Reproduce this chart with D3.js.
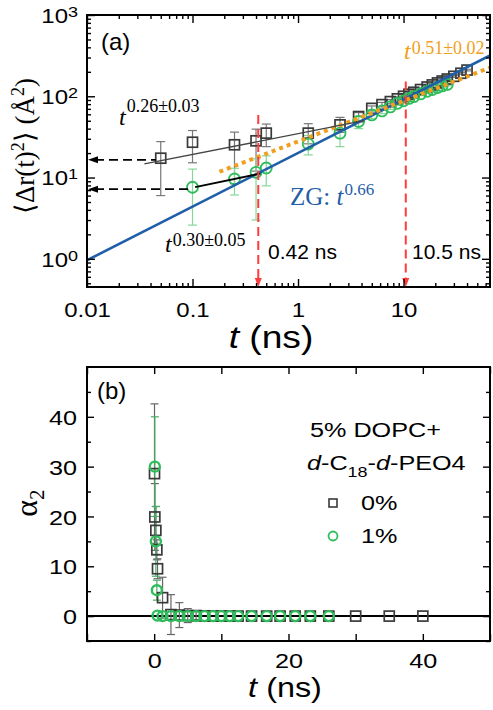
<!DOCTYPE html>
<html><head><meta charset="utf-8">
<script src="https://cdn.jsdelivr.net/npm/d3@7"></script>
<style>body{margin:0;background:#fff}svg{display:block}</style>
</head><body>
<svg id="c" width="493" height="710"></svg>
<script>
// ---------------- data ----------------
// panel (a): MSD, 0% (squares) and 1% (circles)
const tSq   = [0.05,0.1,0.25,0.4,0.5,1.25,2.5,3.75,5,6.25,7.5,8.75,10,11.25,12.5,14.5,16.75,18.75,21,23.25,26,30,35,40];
const msdSq = [17.3,27.2,25.3,28.3,35.2,35.2,44.5,56.3,71,79,86,93,100,106,112,121,130,138,146,154,163,176,192,210];
const msdSqLo = [6.0,15.2,8.4,12,24,26,36,49,66,74,81,88,95,101,107,116,125,133,141,149,158,171,187,205];
const msdSqHi = [27.7,37.9,36.2,39.4,45.5,46,55,63,76,84,91,98,105,111,117,126,135,143,151,159,168,181,197,215];

const tCi   = [0.1,0.25,0.4,0.5,1.25,2.5,3.75,5,6.25,7.5,8.75,10,11.25,12.5,14.5,16.75,18.75,21,23.25,26];
const msdCi = [7.6,9.6,11.6,13.1,25.8,35.2,48.9,59,66,74,82,88,94,99,107,115,121,128,134,140];
const msdCiLo = [2.6,6.1,3.0,7.9,19,24,40,53,61,69,77,83,89,94,102,110,116,123,129,135];
const msdCiHi = [12.7,13,17,18.5,32.9,44,57,65,71,79,87,93,99,104,112,120,126,133,139,145];

// fit lines (end points)
const fitSqT = [0.035, 4.2],  fitSqV = [14.7, 50];
const fitCiT = [0.106, 0.44], fitCiV = [7.6, 11.2];
const fitOrT = [0.18, 66],    fitOrV = [11.8, 225];
const fitZgT = [0.01, 66],    fitZgV = [0.96, 318];
// marked times (red dashed) and plateau arrows
const markT = [0.42, 10.5], markTop = [59, 152], markLbl = ["0.42 ns", "10.5 ns"];
const arrowV = [16.5, 7.2], arrowEndT = [0.045, 0.095];

// panel (b): alpha2
const a2Sq    = [28.6,19.9,17.2,13.3,9.5,3.7,0.3,0.2,0.1,0.1,0.05,0,0,0,0,0,0,0,0,0,0,0,0,0];
const a2SqErr = [14,6.7,4.8,2,2,4.1,4,2.5,1.4,0.8,0.5,0.4,0.3,0.3,0.3,0.3,0.3,0.3,0.3,0.3,0.3,0.3,0.3,0.3];
const a2Ci    = [30,15,5.2,0.1,0,0,0,0,0,0,0,0,0,0,0,0,0,0,0,0];
const a2CiErr = [10,7,2,0.5,0.3,0.3,0.3,0.2,0.2,0.2,0.2,0.2,0.2,0.2,0.2,0.2,0.2,0.2,0.2,0.2];

// ticks
const xaTicks = [0.01,0.1,1,10], xaLabels = ["0.01","0.1","1","10"];
const yaTicks = [1,10,100,1000];
const xbTicks = [0,20,40], xbMinor = [-10,10,30,50];
const ybTicks = [0,10,20,30,40], ybMinor = [-5,5,15,25,35,45];

// ---------------- drawing ----------------
const svg = d3.select("#c");
const SANS = "'Liberation Sans', Arial, sans-serif";
const SERIF = "'Liberation Serif', 'Times New Roman', serif";
const GREEN = "#2dbd5a", GREEN_E = "#86d79a", DARK = "#3a3a3a", BLUE = "#1f5ea8", ORANGE = "#f0a020", RED = "#ff3c3c";
const SX = 1.2;

const A = {l:87, r:490, t:15, b:287};
const B = {l:87, r:490, t:367, b:641};

const xa = d3.scaleLog().domain([0.01, 66]).range([A.l, A.r]);
const ya = d3.scaleLog().domain([0.45, 1000]).range([A.b, A.t]);
const xb = d3.scaleLinear().domain([-10, 50]).range([B.l, B.r]);
const yb = d3.scaleLinear().domain([-5, 50]).range([B.b, B.t]);

function logMinor(lo, hi){ const r=[]; for(let e=-3;e<=3;e++) for(let m=2;m<=9;m++){const v=m*Math.pow(10,e); if(v>=lo*0.999&&v<=hi*1.001) r.push(v);} return r; }

function ticks(axisFn, scale, vals, size, tr){
  const g = svg.append("g").attr("transform", tr)
    .call(axisFn(scale).tickValues(vals).tickSize(-size).tickSizeOuter(0).tickFormat(""));
  g.select(".domain").remove();
  g.selectAll("line").attr("stroke","#000").attr("stroke-width",1.4);
  return g;
}

// ---- defs
const defs = svg.append("defs");
defs.append("clipPath").attr("id","clipA").append("rect").attr("x",A.l).attr("y",A.t).attr("width",A.r-A.l).attr("height",A.b-A.t);
defs.append("clipPath").attr("id","clipB").append("rect").attr("x",B.l).attr("y",B.t).attr("width",B.r-B.l).attr("height",B.b-B.t);

// ================= PANEL A =================
const pa = svg.append("g").attr("clip-path","url(#clipA)");

function errBars(g, xs, ys, lo, hi, x, y, color, cap){
  const gg = g.append("g").attr("stroke",color).attr("stroke-width",1.2).attr("fill","none");
  xs.forEach((t,i)=>{
    const X=x(t), y1=y(lo[i]), y2=y(hi[i]);
    gg.append("line").attr("x1",X).attr("x2",X).attr("y1",y1).attr("y2",y2);
    gg.append("line").attr("x1",X-cap).attr("x2",X+cap).attr("y1",y1).attr("y2",y1);
    gg.append("line").attr("x1",X-cap).attr("x2",X+cap).attr("y1",y2).attr("y2",y2);
  });
}
errBars(pa, tSq, msdSq, msdSqLo, msdSqHi, xa, ya, "#777", 4.5);
errBars(pa, tCi, msdCi, msdCiLo, msdCiHi, xa, ya, GREEN_E, 4.5);

pa.append("g").selectAll("rect").data(tSq).join("rect")
  .attr("x",(d)=>xa(d)-5).attr("y",(d,i)=>ya(msdSq[i])-5).attr("width",10).attr("height",10)
  .attr("fill","none").attr("stroke",DARK).attr("stroke-width",1.7);
pa.append("g").selectAll("circle").data(tCi).join("circle")
  .attr("cx",(d)=>xa(d)).attr("cy",(d,i)=>ya(msdCi[i])).attr("r",5.5)
  .attr("fill","none").attr("stroke",GREEN).attr("stroke-width",1.8);

const lineA = d3.line().x(d=>xa(d[0])).y(d=>ya(d[1]));
function fit(T,V,color,w,dash){
  const p = pa.append("path").attr("d", lineA(T.map((t,i)=>[t,V[i]]))).attr("stroke",color).attr("stroke-width",w).attr("fill","none");
  if(dash) p.attr("stroke-dasharray",dash);
}
fit(fitZgT, fitZgV, BLUE, 2.6);
fit(fitOrT, fitOrV, ORANGE, 4, "4 4");
fit(fitSqT, fitSqV, "#444", 1.3);
fit(fitCiT, fitCiV, "#000", 1.8);

markT.forEach((t,i)=>{
  const X = xa(t);
  pa.append("line").attr("x1",X).attr("x2",X).attr("y1",ya(markTop[i])).attr("y2",A.b-6)
    .attr("stroke",RED).attr("stroke-width",2).attr("stroke-dasharray","9 5");
  pa.append("path").attr("d",`M${X-3.5},${A.b-9}L${X+3.5},${A.b-9}L${X},${A.b}Z`).attr("fill",RED);
});
arrowV.forEach((v,i)=>{
  const Y = ya(v);
  pa.append("line").attr("x1",A.l+8).attr("x2",xa(arrowEndT[i])).attr("y1",Y).attr("y2",Y)
    .attr("stroke","#000").attr("stroke-width",1.6).attr("stroke-dasharray","9 5");
  pa.append("path").attr("d",`M${A.l+1},${Y}L${A.l+11},${Y-3.5}L${A.l+11},${Y+3.5}Z`).attr("fill","#000");
});

ticks(d3.axisBottom, xa, xaTicks, 8, `translate(0,${A.b})`);
ticks(d3.axisBottom, xa, logMinor(0.01,66), 4, `translate(0,${A.b})`);
ticks(d3.axisTop, xa, xaTicks, 8, `translate(0,${A.t})`);
ticks(d3.axisTop, xa, logMinor(0.01,66), 4, `translate(0,${A.t})`);
ticks(d3.axisLeft, ya, yaTicks, 8, `translate(${A.l},0)`);
ticks(d3.axisLeft, ya, logMinor(0.45,1000), 4, `translate(${A.l},0)`);
ticks(d3.axisRight, ya, yaTicks, 8, `translate(${A.r},0)`);
ticks(d3.axisRight, ya, logMinor(0.45,1000), 4, `translate(${A.r},0)`);

const gxl = svg.append("g").attr("transform",`translate(0,${A.b})`)
  .call(d3.axisBottom(xa).tickValues(xaTicks).tickSize(0).tickFormat((d,i)=>xaLabels[i]));
gxl.select(".domain").remove();
gxl.selectAll("text").attr("y",0).attr("dy","0.71em").attr("transform",`translate(0,16) scale(${SX},1)`)
  .attr("font-size",20).attr("font-family",SANS).attr("fill","#000");

const gyl = svg.append("g").attr("transform",`translate(${A.l},0)`)
  .call(d3.axisLeft(ya).tickValues(yaTicks).tickSize(0).tickFormat(""));
gyl.select(".domain").remove();
gyl.selectAll("text").each(function(d){
  const t = d3.select(this);
  t.attr("x",0).attr("dy","0.36em").attr("transform",`translate(-9,0) scale(${SX},1)`)
   .attr("font-size",20).attr("font-family",SANS).attr("fill","#000").attr("text-anchor","end");
  t.text("10");
  t.append("tspan").attr("dy",-6).attr("font-size",15).text(Math.round(Math.log10(d)));
});

svg.append("rect").attr("x",A.l).attr("y",A.t).attr("width",A.r-A.l).attr("height",A.b-A.t)
  .attr("fill","none").attr("stroke","#000").attr("stroke-width",2);

svg.append("text").attr("x",101).attr("y",50).attr("font-family",SANS).attr("font-size",24).text("(a)");

function powLabel(x, y, fs, sup, sfs, dy, color, prefix){
  const t = svg.append("text").attr("x",x).attr("y",y).attr("font-family",SERIF).attr("font-size",fs).attr("fill",color);
  if(prefix) t.append("tspan").text(prefix);
  t.append("tspan").attr("font-style","italic").text("t");
  t.append("tspan").attr("dy",dy).attr("font-size",sfs).attr("dx",1).text(sup);
  return t;
}
powLabel(119, 125, 24, "0.26±0.03", 18, -13, "#000");
powLabel(165, 252, 24, "0.30±0.05", 18, -6, "#000");
powLabel(290, 205, 25, "0.66", 17, -10, BLUE, "ZG: ");
powLabel(404, 59, 24, "0.51±0.02", 18, -5, ORANGE);
markT.forEach((t,i)=>{
  svg.append("text").attr("x", i===0?268:412).attr("y",259).attr("font-family",SANS).attr("font-size",21).text(markLbl[i]);
});

const xtA = svg.append("text").attr("transform",`translate(271,348) scale(${SX},1)`).attr("text-anchor","middle")
  .attr("font-family",SANS).attr("font-size",31);
xtA.append("tspan").attr("font-style","italic").text("t");
xtA.append("tspan").text(" (ns)");

const ytA = svg.append("text").attr("transform","translate(34,146) rotate(-90)").attr("text-anchor","middle")
  .attr("font-family",SERIF).attr("font-size",27);
ytA.append("tspan").text("\u27E8\u0394r(t)");
ytA.append("tspan").attr("dy",-10).attr("font-size",18).text("2");
ytA.append("tspan").attr("dy",10).text("\u27E9 (Å");
ytA.append("tspan").attr("dy",-10).attr("font-size",18).text("2");
ytA.append("tspan").attr("dy",10).text(")");

// ================= PANEL B =================
const pb = svg.append("g").attr("clip-path","url(#clipB)");
pb.append("line").attr("x1",B.l).attr("x2",B.r).attr("y1",yb(0)).attr("y2",yb(0)).attr("stroke","#000").attr("stroke-width",2);

function errBarsLin(g, xs, ys, err, color, cap){
  const gg = g.append("g").attr("stroke",color).attr("stroke-width",1.2);
  xs.forEach((t,i)=>{
    if(err[i] < 0.6) return;
    const X=xb(t), y1=yb(ys[i]-err[i]), y2=yb(ys[i]+err[i]);
    gg.append("line").attr("x1",X).attr("x2",X).attr("y1",y1).attr("y2",y2);
    gg.append("line").attr("x1",X-cap).attr("x2",X+cap).attr("y1",y1).attr("y2",y1);
    gg.append("line").attr("x1",X-cap).attr("x2",X+cap).attr("y1",y2).attr("y2",y2);
  });
}
errBarsLin(pb, tSq, a2Sq, a2SqErr, "#666", 4);
errBarsLin(pb, tCi, a2Ci, a2CiErr, "#4cae66", 4);

pb.append("g").selectAll("rect").data(tSq).join("rect")
  .attr("x",d=>xb(d)-5).attr("y",(d,i)=>yb(a2Sq[i])-5).attr("width",10).attr("height",10)
  .attr("fill","none").attr("stroke",DARK).attr("stroke-width",1.7);
pb.append("g").selectAll("circle").data(tCi).join("circle")
  .attr("cx",d=>xb(d)).attr("cy",(d,i)=>yb(a2Ci[i])).attr("r",5)
  .attr("fill","none").attr("stroke",GREEN).attr("stroke-width",2.4);

ticks(d3.axisBottom, xb, xbTicks.concat(xbMinor), 7, `translate(0,${B.b})`);
ticks(d3.axisTop, xb, xbTicks.concat(xbMinor), 7, `translate(0,${B.t})`);
ticks(d3.axisLeft, yb, ybTicks, 7, `translate(${B.l},0)`);
ticks(d3.axisLeft, yb, ybMinor, 4, `translate(${B.l},0)`);
ticks(d3.axisRight, yb, ybTicks, 7, `translate(${B.r},0)`);
ticks(d3.axisRight, yb, ybMinor, 4, `translate(${B.r},0)`);

const gxb = svg.append("g").attr("transform",`translate(0,${B.b})`)
  .call(d3.axisBottom(xb).tickValues(xbTicks).tickSize(0).tickFormat(d3.format("d")));
gxb.select(".domain").remove();
gxb.selectAll("text").attr("y",0).attr("dy","0.71em").attr("transform",`translate(0,12) scale(${SX},1)`)
  .attr("font-size",21).attr("font-family",SANS).attr("fill","#000");
const gyb = svg.append("g").attr("transform",`translate(${B.l},0)`)
  .call(d3.axisLeft(yb).tickValues(ybTicks).tickSize(0).tickFormat(d3.format("d")));
gyb.select(".domain").remove();
gyb.selectAll("text").attr("x",0).attr("dy","0.36em").attr("transform",`translate(-10,0) scale(${SX},1)`)
  .attr("font-size",21).attr("font-family",SANS).attr("fill","#000");

svg.append("rect").attr("x",B.l).attr("y",B.t).attr("width",B.r-B.l).attr("height",B.b-B.t)
  .attr("fill","none").attr("stroke","#000").attr("stroke-width",2);

svg.append("text").attr("x",97).attr("y",399).attr("font-family",SANS).attr("font-size",24).text("(b)");

svg.append("text").attr("transform",`translate(310,437) scale(${SX},1)`).attr("font-family",SANS).attr("font-size",21).text("5% DOPC+");
const lg2 = svg.append("text").attr("transform",`translate(307,470) scale(${SX},1)`).attr("font-family",SANS).attr("font-size",21);
lg2.append("tspan").attr("font-style","italic").text("d");
lg2.append("tspan").text("-C");
lg2.append("tspan").attr("dy",7).attr("font-size",15).text("18");
lg2.append("tspan").attr("dy",-7).text("-");
lg2.append("tspan").attr("font-style","italic").text("d");
lg2.append("tspan").text("-PEO4");
svg.append("rect").attr("x",329).attr("y",499).attr("width",8).attr("height",8).attr("fill","none").attr("stroke",DARK).attr("stroke-width",1.6);
svg.append("circle").attr("cx",333).attr("cy",536).attr("r",4.5).attr("fill","none").attr("stroke",GREEN).attr("stroke-width",1.8);
svg.append("text").attr("transform",`translate(361,510) scale(${SX},1)`).attr("font-family",SANS).attr("font-size",21).text("0%");
svg.append("text").attr("transform",`translate(361,543) scale(${SX},1)`).attr("font-family",SANS).attr("font-size",21).text("1%");

const xtB = svg.append("text").attr("transform",`translate(285,697) scale(${SX},1)`).attr("text-anchor","middle")
  .attr("font-family",SANS).attr("font-size",27);
xtB.append("tspan").attr("font-style","italic").text("t");
xtB.append("tspan").text(" (ns)");
const ytB = svg.append("text").attr("transform","translate(37,503) rotate(-90)").attr("text-anchor","middle")
  .attr("font-family",SERIF).attr("font-size",32);
ytB.append("tspan").text("α");
ytB.append("tspan").attr("dy",7).attr("font-size",21).text("2");
</script>
</body></html>
